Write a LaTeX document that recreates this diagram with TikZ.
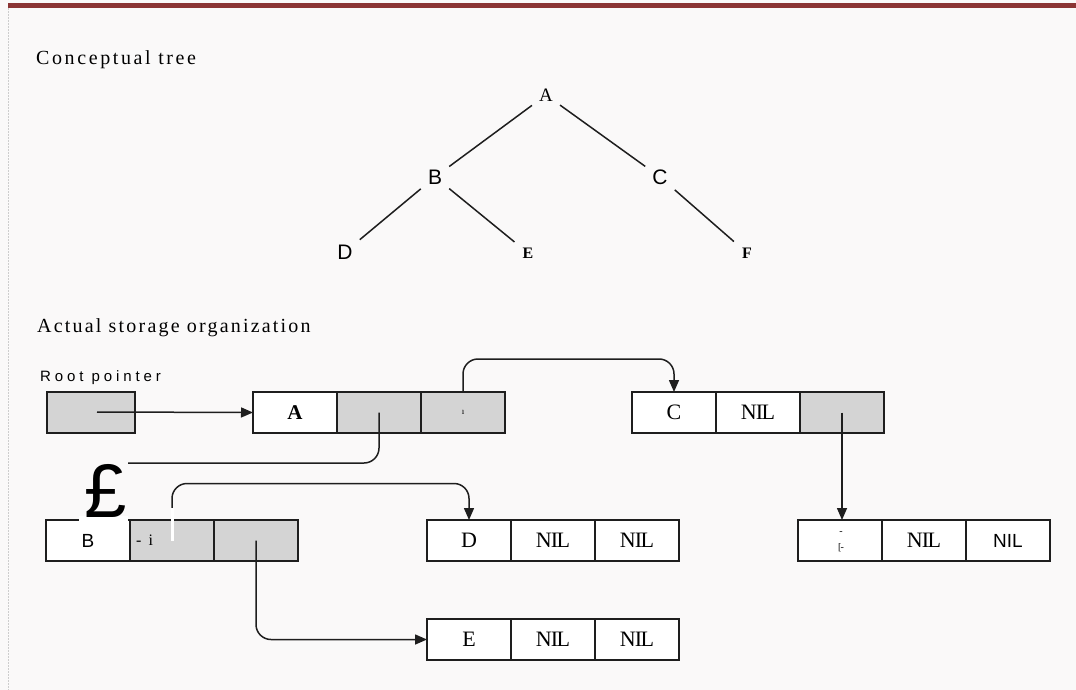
\documentclass[tikz,border=0pt]{standalone}
\usepackage{fontspec}
\setmainfont{Liberation Serif}
\newfontfamily\sansf{Liberation Sans}
\usetikzlibrary{arrows.meta}
\definecolor{bgc}{RGB}{250,249,249}
\definecolor{cellgray}{RGB}{212,212,212}
\definecolor{ink}{RGB}{30,30,30}
\definecolor{barred}{RGB}{139,52,52}
\definecolor{edgegray}{RGB}{205,205,205}
\begin{document}
\begin{tikzpicture}[x=1pt,y=-1pt,
  cell/.style={draw=ink, line width=1.7pt, minimum width=84pt, minimum height=41pt,
    inner sep=0pt, outer sep=0pt, anchor=north west, fill=white,
    font=\fontsize{22}{22}\selectfont},
  gcell/.style={cell, fill=cellgray},
  sanscell/.style={cell, font=\sansf\fontsize{19}{19}\selectfont},
  ptr/.style={draw=ink, line width=1.5pt, rounded corners=15pt},
  tip/.style={-{Triangle[length=12pt,width=10pt]}},
  tedge/.style={draw=ink, line width=1.5pt},
  tser/.style={font=\fontsize{19}{19}\selectfont, inner sep=7pt},
  tsan/.style={font=\sansf\fontsize{21}{21}\selectfont, inner sep=7pt},
  tbold/.style={font=\bfseries\fontsize{16}{16}\selectfont, inner sep=8pt},
  heading/.style={anchor=base west, inner sep=0pt,
    font=\fontsize{20}{20}\selectfont\addfontfeatures{LetterSpace=11}},
]
\useasboundingbox (0,0) rectangle (1076,690);
\fill[bgc] (0,0) rectangle (1076,690);
\fill[barred] (8,3) rectangle (1076,8);
\draw[edgegray, line width=0.8pt, dash pattern=on 2pt off 1pt] (8,8) -- (8,690);

% ---------- conceptual tree ----------
\node[heading, font=\fontsize{20}{20}\selectfont\addfontfeatures{LetterSpace=13}] (h1) at (36,65) {Conceptual tree};
\node[tser] (tA) at (546,95) {A};
\node[tsan] (tB) at (435,177) {B};
\node[tsan] (tC) at (660,177) {C};
\node[tsan] (tD) at (345,252) {D};
\node[tbold] (tE) at (528,253) {E};
\node[tbold] (tF) at (747,253) {F};
\draw[tedge] (tA) -- (tB);
\draw[tedge] (tA) -- (tC);
\draw[tedge] (tB) -- (tD);
\draw[tedge] (tB) -- (tE);
\draw[tedge] (tC) -- (tF);

% ---------- storage ----------
\node[heading] (h2) at (37,332) {Actual storage organization};
\node[anchor=base west, inner sep=0pt,
  font=\sansf\fontsize{15}{15}\selectfont\addfontfeatures{LetterSpace=26}] (h3) at (40,381) {Root pointer};

\node[gcell, minimum width=88pt] (R) at (47,392) {};

\node[cell, font=\bfseries\fontsize{21}{21}\selectfont]  (A1) at (253,392) {A};
\node[gcell] (A2) at (337,392) {};
\node[gcell] (A3) at (421,392) {};

\node[cell]  (C1) at (632,392) {C};
\node[cell]  (C2) at (716,392) {N\kern-1ptI\kern-1.5ptL};
\node[gcell] (C3) at (800,392) {};

\node[sanscell] (B1) at (46,520) {B};
\node[gcell] (B2) at (130,520) {};
\node[gcell] (B3) at (214,520) {};

\node[cell] (D1) at (427,520) {D};
\node[cell] (D2) at (511,520) {N\kern-1ptI\kern-1.5ptL};
\node[cell] (D3) at (595,520) {N\kern-1ptI\kern-1.5ptL};

\node[cell] (F1) at (798,520) {};
\node[cell] (F2) at (882,520) {N\kern-1ptI\kern-1.5ptL};
\node[sanscell] (F3) at (966,520) {NIL};

\node[cell] (E1) at (427,619) {E};
\node[cell] (E2) at (511,619) {N\kern-1ptI\kern-1.5ptL};
\node[cell] (E3) at (595,619) {N\kern-1ptI\kern-1.5ptL};

% stray marks as printed
\node[anchor=base, inner sep=0pt, font=\fontsize{9}{9}\selectfont] (iA) at (463,414) {ı};
\node[anchor=base west, inner sep=0pt, font=\fontsize{16}{16}\selectfont] (mi) at (136,545) {-\hspace{7pt}i};
\node[inner sep=0pt, font=\fontsize{10}{10}\selectfont] (fa) at (841,533) {-};
\node[inner sep=0pt, font=\fontsize{10}{10}\selectfont] (fb) at (841,548) {[\kern-1pt-};

% pointers
\coordinate (r0) at (97,412);
\coordinate (pend) at (128,463);
\draw[ptr, tip] (r0) -- (A1.west);
\draw[ptr] (A2.center) |- (pend);
\draw[ptr, tip] (A3.north) -- ++(0,-33) -| (C1.north);
\draw[ptr, tip] (C3.center) -- (C3.center |- F1.north);
\draw[ptr, tip] (B2.center) -- ++(0,-57) -| (D1.north);
\draw[white, line width=3pt] (B2.center) -- ++(0,-33);
\draw[ptr, tip] (B3.center) |- (E1.west);

% pound sign over B box top edge
\fill[white] (79,516) rectangle (128,524);
\node[anchor=base, inner sep=0pt, font=\sansf\fontsize{76}{76}\selectfont] (pound) at (106,517) {£};
\end{tikzpicture}
\end{document}
